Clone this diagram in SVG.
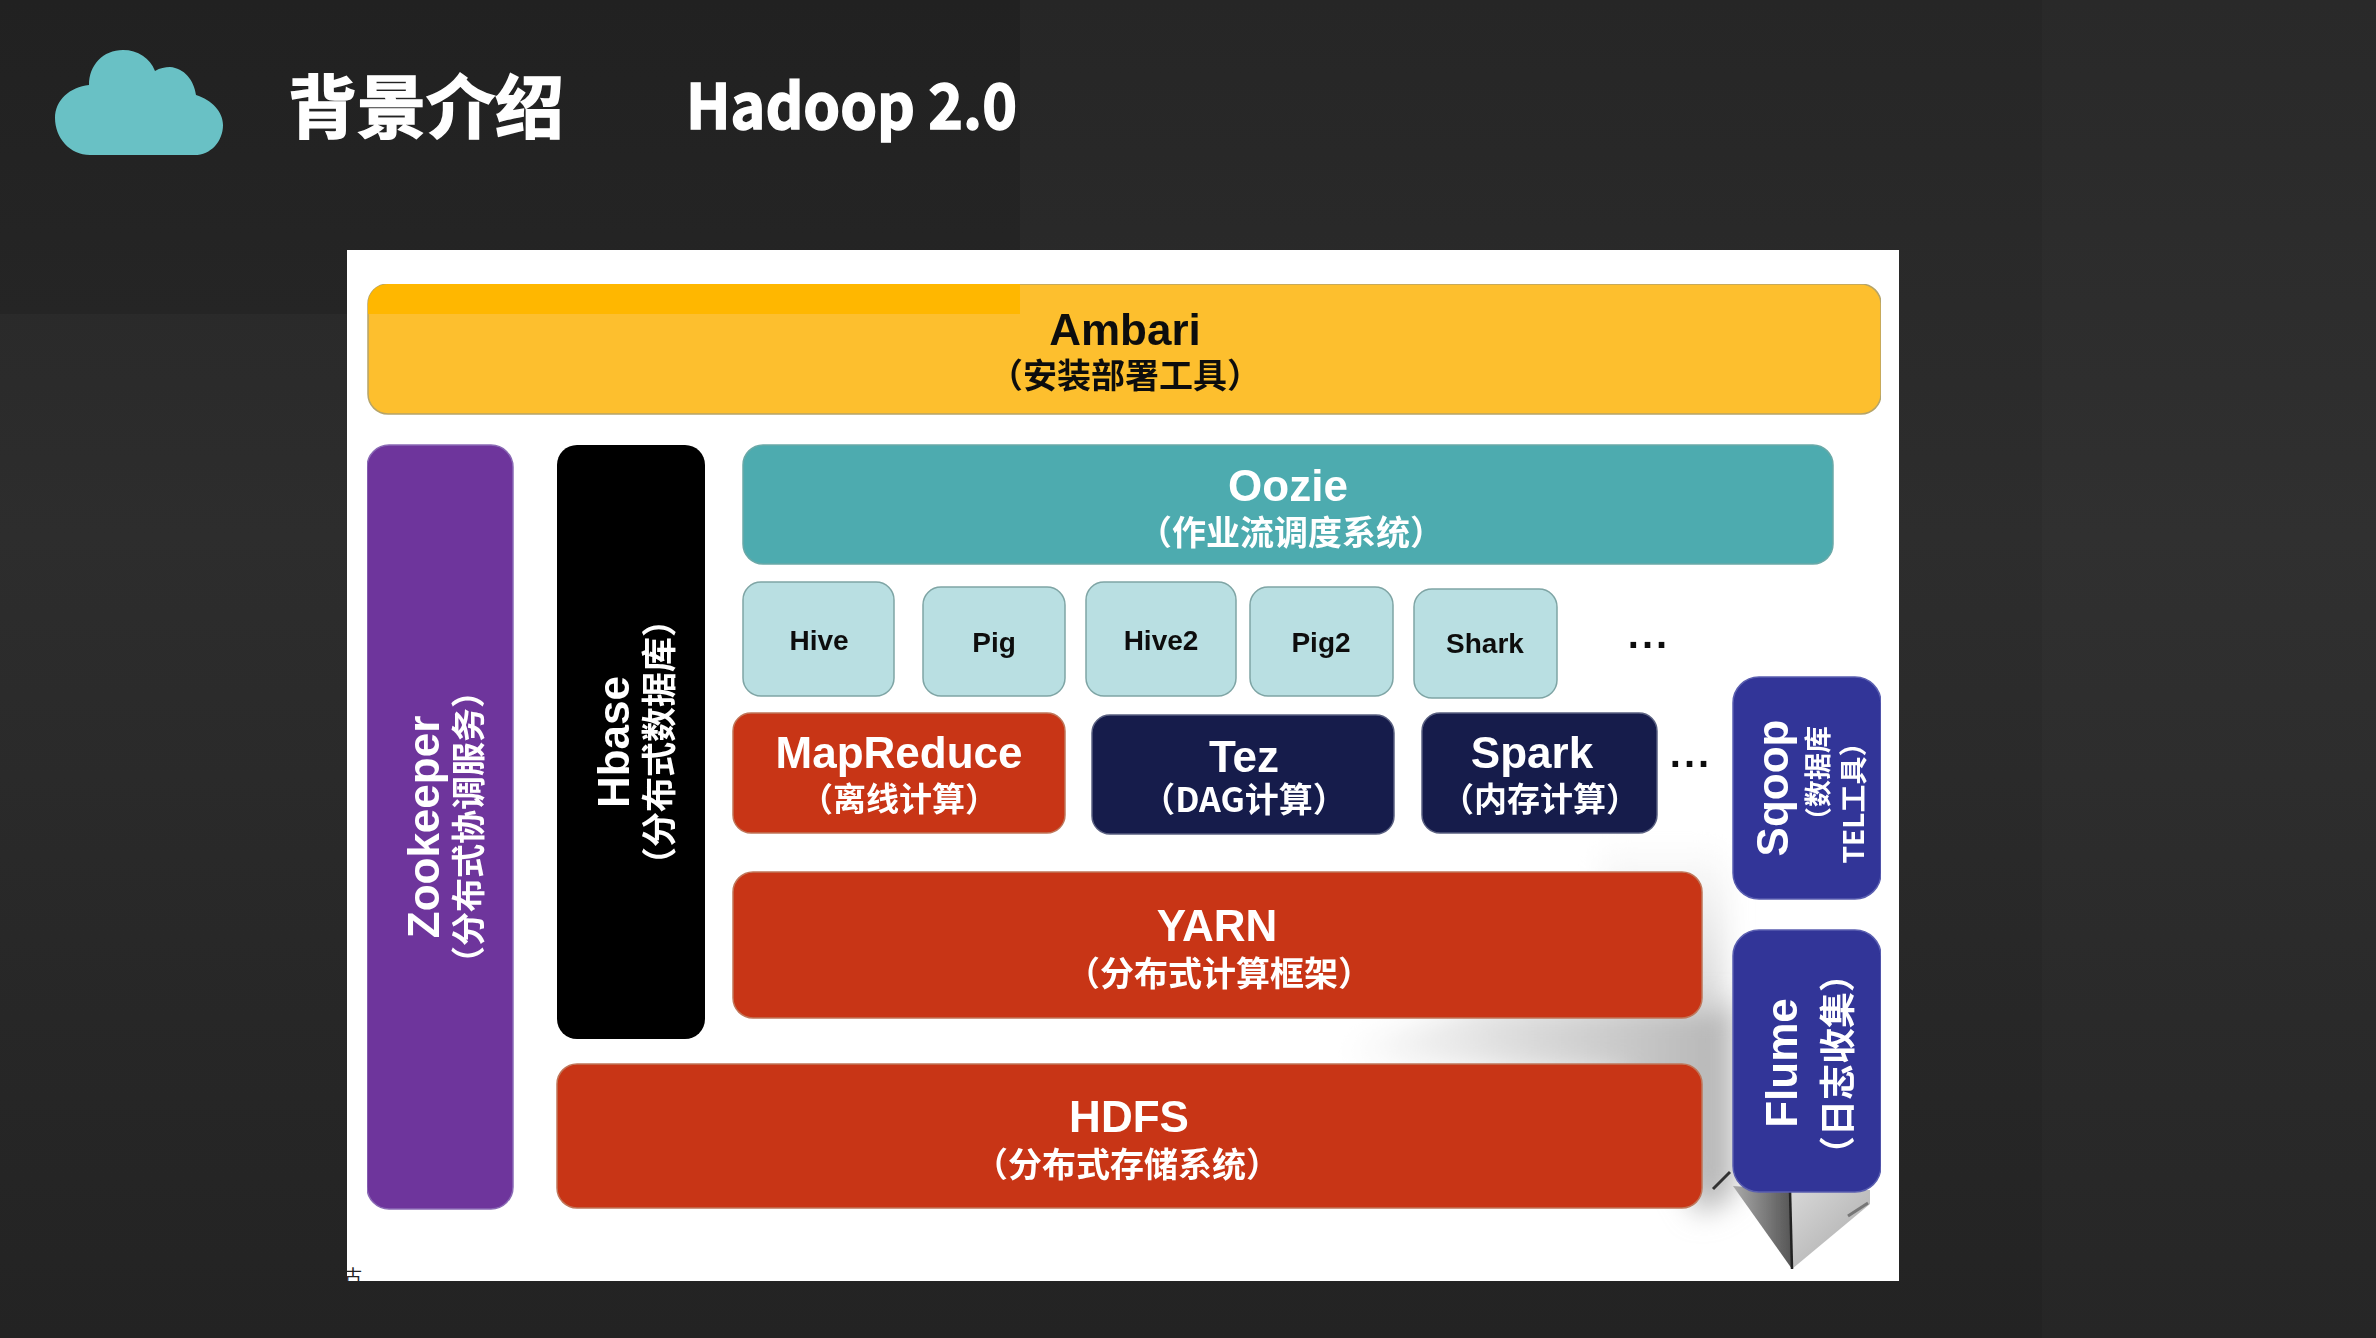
<svg xmlns="http://www.w3.org/2000/svg" width="2376" height="1338" viewBox="0 0 2376 1338">
<style>
text{font-family:"Liberation Sans","Noto Sans CJK SC",sans-serif;font-weight:700;text-anchor:middle}
.h{font-family:"Noto Sans CJK SC","Noto Sans",sans-serif;fill:#fff;stroke:#fff;stroke-width:1.5;text-anchor:start}
.w{fill:#fff}.k{fill:#111}
.m{font-size:44px}.s{font-size:34px;font-family:"Noto Sans CJK SC","Liberation Sans",sans-serif}
.l{font-size:28px}
.yel{fill:#fdbf2d;stroke:#b5a46a;stroke-width:1.5}
.pur{fill:#6e359c;stroke:#8a6ab5;stroke-width:1.5}
.tea{fill:#4eabaf;stroke:#6aa9a8;stroke-width:1.5}
.lit{fill:#b9dfe2;stroke:#7fa5a5;stroke-width:1.5}
.red{fill:#c83413;stroke:#c0765a;stroke-width:1.5}
.nav{fill:#131a4c;stroke:#5a6080;stroke-width:1.5}
.blu{fill:#303498;stroke:#5a5eb0;stroke-width:1.5}
</style>
<defs>
<linearGradient id="bg" x1="0" y1="0" x2="0" y2="1"><stop offset="0" stop-color="#262626"/><stop offset=".4" stop-color="#2d2d2d"/><stop offset="1" stop-color="#232323"/></linearGradient>
<linearGradient id="top" x1="0" y1="0" x2="0" y2="1"><stop offset="0" stop-color="#212121"/><stop offset="1" stop-color="#252525"/></linearGradient>
<linearGradient id="fl" x1="0" y1="0" x2="1" y2="0"><stop offset="0" stop-color="#aaa"/><stop offset="1" stop-color="#555"/></linearGradient>
<linearGradient id="fr" x1="0" y1="0" x2="1" y2="1"><stop offset="0" stop-color="#d8d8d8"/><stop offset="1" stop-color="#a8a8a8"/></linearGradient>
<linearGradient id="sh" x1="0" y1="0" x2="1" y2="0"><stop offset="0" stop-color="#fff"/><stop offset=".5" stop-color="#d8d8d8"/><stop offset="1" stop-color="#b5b5b5"/></linearGradient>
<linearGradient id="sh2" x1="0" y1="0" x2="0" y2="1"><stop offset="0" stop-color="#fff"/><stop offset="1" stop-color="#d5d5d5"/></linearGradient>
<filter id="bl" x="-30%" y="-30%" width="160%" height="160%"><feGaussianBlur stdDeviation="14"/></filter>
<filter id="soft" x="0" y="0" width="100%" height="100%"><feGaussianBlur stdDeviation="0.7"/></filter>
<clipPath id="ph"><rect x="347" y="250" width="1552" height="1031"/></clipPath>
</defs>
<rect width="2376" height="1338" fill="url(#bg)"/>
<rect x="2042" width="334" height="1338" fill="#fff" opacity=".015"/>
<rect width="1020" height="314" fill="url(#top)"/>
<g id="header">
<path id="cloud" d="M90 155C70 155 55 138 55 118C55 100 70 87 89 85C89 65 103 50 123 50C138 50 150 58 155 71C160 68 165 67 170 67C184 68 194 80 196 95C212 100 223 112 223 125C223 142 210 156 193 155Z" fill="#69c1c5"/>
<text class="h" x="288" y="133" font-size="69">背景介绍</text>
<text class="h" x="686" y="129" font-size="62" textLength="331" lengthAdjust="spacingAndGlyphs">Hadoop 2.0</text>
</g>
<rect id="photo" x="347" y="250" width="1552" height="1031" fill="#fff"/>
<g clip-path="url(#ph)">
<path d="M1600 840H1725V1010H1600Z" fill="url(#sh2)" filter="url(#bl)"/>
<path d="M1340 1045L1480 1005H1735V1195L1700 1215L1620 1075L1340 1060Z" fill="url(#sh)" filter="url(#bl)"/>
<text x="353" y="1283" font-size="18" style="font-weight:400;font-family:'Noto Sans CJK SC',sans-serif;fill:#222">古</text>
</g>
<g filter="url(#soft)">
<g id="server">
<path d="M1730 1172L1713 1189" stroke="#333" stroke-width="3" fill="none"/>
<path d="M1733 1186L1790 1190L1792 1269Z" fill="url(#fl)"/>
<path d="M1790 1190L1870 1190L1870 1204L1792 1269Z" fill="url(#fr)"/>
<path d="M1790 1190L1792 1269" stroke="#222" stroke-width="2.5"/>
<path d="M1848 1216L1868 1203" stroke="#777" stroke-width="3"/>
</g>
<g id="ambari"><rect class="yel" x="368" y="284" width="1513" height="130" rx="20"/><path d="M368 314V304a20 20 0 0 1 20-20H1020V314Z" fill="#ffb700"/><text class="k m" x="1125" y="345">Ambari</text><text class="k s" x="1125" y="388">（安装部署工具）</text></g>
<g id="zookeeper"><rect class="pur" x="367" y="445" width="146" height="764" rx="22"/><text class="w m" transform="translate(439 827) rotate(-90)">Zookeeper</text><text class="w s" style="font-size:34px" transform="translate(481 827) rotate(-90)">（分布式协调服务）</text></g>
<g id="hbase"><rect x="557" y="445" width="148" height="594" rx="20" fill="#000"/><text class="w m" transform="translate(629 742) rotate(-90)">Hbase</text><text class="w s" style="font-size:35px" transform="translate(672 742) rotate(-90)">（分布式数据库）</text></g>
<g id="oozie"><rect class="tea" x="743" y="445" width="1090" height="119" rx="20"/><text class="w m" x="1288" y="501">Oozie</text><text class="w s" x="1291" y="545">（作业流调度系统）</text></g>
<g id="hive"><rect class="lit" x="743" y="582" width="151" height="114" rx="18"/><text class="k l" x="819" y="650">Hive</text></g>
<g id="pig"><rect class="lit" x="923" y="587" width="142" height="109" rx="18"/><text class="k l" x="994" y="652">Pig</text></g>
<g id="hive2"><rect class="lit" x="1086" y="582" width="150" height="114" rx="18"/><text class="k l" x="1161" y="650">Hive2</text></g>
<g id="pig2"><rect class="lit" x="1250" y="587" width="143" height="109" rx="18"/><text class="k l" x="1321" y="652">Pig2</text></g>
<g id="shark"><rect class="lit" x="1414" y="589" width="143" height="109" rx="18"/><text class="k l" x="1485" y="653">Shark</text></g>
<text id="more1" class="k" x="1649" y="648" font-size="40" letter-spacing="3">...</text>
<g id="mapreduce"><rect class="red" x="733" y="713" width="332" height="120" rx="18"/><text class="w m" x="899" y="768">MapReduce</text><text class="w s" style="font-size:33px" x="899" y="811">（离线计算）</text></g>
<g id="tez"><rect class="nav" x="1092" y="715" width="302" height="119" rx="18"/><text class="w m" x="1244" y="772">Tez</text><text class="w s" x="1244" y="812">（DAG计算）</text></g>
<g id="spark"><rect class="nav" x="1422" y="713" width="235" height="120" rx="18"/><text class="w m" x="1532" y="768">Spark</text><text class="w s" style="font-size:33px" x="1540" y="811">（内存计算）</text></g>
<text id="more2" class="k" x="1691" y="767" font-size="40" letter-spacing="3">...</text>
<g id="yarn"><rect class="red" x="733" y="872" width="969" height="146" rx="20"/><text class="w m" x="1217" y="941">YARN</text><text class="w s" x="1219" y="986">（分布式计算框架）</text></g>
<g id="hdfs"><rect class="red" x="557" y="1064" width="1145" height="144" rx="20"/><text class="w m" x="1129" y="1132">HDFS</text><text class="w s" x="1127" y="1177">（分布式存储系统）</text></g>
<g id="sqoop"><rect class="blu" x="1733" y="677" width="148" height="222" rx="26"/><text class="w m" transform="translate(1788 788) rotate(-90)">Sqoop</text><text class="w s" style="font-size:27px" transform="translate(1828 780) rotate(-90)">（数据库</text><text class="w s" style="font-size:28px" transform="translate(1864 796) rotate(-90)">TEL工具）</text></g>
<g id="flume"><rect class="blu" x="1733" y="930" width="148" height="262" rx="26"/><text class="w m" transform="translate(1797 1063) rotate(-90)">Flume</text><text class="w s" style="font-size:36px" transform="translate(1851 1064) rotate(-90)">（日志收集）</text></g>
</g>
</svg>
